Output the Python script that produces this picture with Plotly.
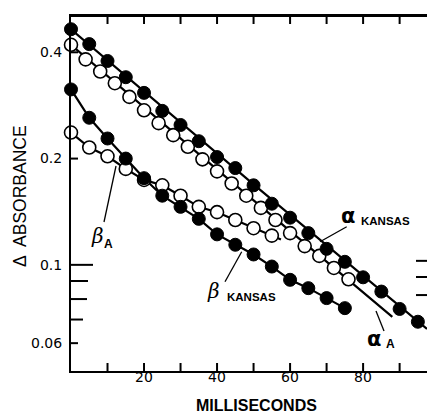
import math
import plotly.graph_objects as go

# ---- data ----
ak_x = [0, 5, 10, 15, 20, 25, 30, 35, 40, 45, 50, 55, 60, 65, 70, 75, 80, 85, 90, 95]
ak_y = [0.465, 0.422, 0.378, 0.340, 0.307, 0.273, 0.249, 0.224, 0.202, 0.188,
        0.168, 0.149, 0.136, 0.123, 0.111, 0.102, 0.0922, 0.084, 0.075, 0.069]

aa_x = [0, 4, 8, 12, 16, 20, 24, 28, 32, 36, 40, 44, 48, 52, 56, 60, 64, 68, 72, 76]
aa_y = [0.42, 0.382, 0.353, 0.327, 0.299, 0.274, 0.252, 0.233, 0.216, 0.199,
        0.184, 0.170, 0.157, 0.145, 0.134, 0.123, 0.113, 0.106, 0.098, 0.091]

ba_x = [0, 5, 10, 15, 20, 25, 30, 35, 40, 45, 50, 55]
ba_y = [0.237, 0.215, 0.203, 0.187, 0.174, 0.168, 0.157, 0.146, 0.141, 0.134, 0.127, 0.121]

bk_x = [0, 5, 10, 15, 20, 25, 30, 35, 40, 45, 50, 55, 60, 65, 70, 75]
bk_y = [0.314, 0.261, 0.228, 0.200, 0.176, 0.157, 0.146, 0.135, 0.122, 0.114,
        0.107, 0.0989, 0.0907, 0.0859, 0.0805, 0.0754]

# fitted lines
ak_fit_x = [0, 50, 97.5]
ak_fit_y = [0.465, 0.169, 0.0658]
aa_fit_x = [0, 40, 88]
aa_fit_y = [0.42, 0.186, 0.0712]
ba_fit_x = ba_x + [57.5]
ba_fit_y = ba_y + [0.118]
bk_fit_x = bk_x
bk_fit_y = bk_y

y_tickvals = [0.06, 0.1, 0.2, 0.4]
y_ticktext = ["0.06", "0.1", "0.2", "0.4"]
y_minor = [0.07, 0.08, 0.09]
y_minor_len = [12, 16, 17]
x_tickvals = [10, 20, 30, 40, 50, 60, 70, 80, 90]
x_ticktext = ["", "20", "", "40", "", "60", "", "80", ""]
right_ticks = [0.1, 0.09, 0.08]

# ---- layout geometry ----
W, H = 427, 416
L, R, T, B = 71, 0, 16, 45
PW, PH = W - L - R, H - T - B
X_RANGE = [0, 97.5]
Y_RANGE = [-1.3007, -0.2951]
PPX = PW / (X_RANGE[1] - X_RANGE[0])        # pixels per ms
PPD = PH / (Y_RANGE[1] - Y_RANGE[0])        # pixels per decade


def px(x, y):
    return (x - L) / PW, (H - B - y) / PH


fig = go.Figure()

for fx, fy in [(ak_fit_x, ak_fit_y), (aa_fit_x, aa_fit_y), (ba_fit_x, ba_fit_y), (bk_fit_x, bk_fit_y)]:
    fig.add_trace(go.Scatter(x=fx, y=fy, mode="lines",
                             line=dict(color="black", width=2.2), hoverinfo="skip"))

open_m = dict(symbol="circle", size=13, color="white", line=dict(color="black", width=1.6))
fill_m = dict(symbol="circle", size=13, color="black", line=dict(color="black", width=1))

fig.add_trace(go.Scatter(x=ba_x, y=ba_y, mode="markers", marker=open_m, cliponaxis=False))
fig.add_trace(go.Scatter(x=bk_x, y=bk_y, mode="markers", marker=fill_m, cliponaxis=False))
fig.add_trace(go.Scatter(x=aa_x, y=aa_y, mode="markers", marker=open_m, cliponaxis=False))
fig.add_trace(go.Scatter(x=ak_x, y=ak_y, mode="markers", marker=fill_m, cliponaxis=False))

# ---- frame: top line and all ticks, drawn as one line trace derived from ranges/tickvals ----
y_top = 10 ** Y_RANGE[1]
y_bot = 10 ** Y_RANGE[0]
fx, fy = [], []


def seg(x0, y0, x1, y1):
    fx.extend([x0, x1, None])
    fy.extend([y0, y1, None])


seg(X_RANGE[0], y_top, X_RANGE[1], y_top)
for v in x_tickvals:
    seg(v, y_top, v, 10 ** (Y_RANGE[1] - 8 / PPD))
    seg(v, y_bot, v, 10 ** (Y_RANGE[0] + 8 / PPD))
for v in y_tickvals:
    ln = 22 if v == 0.1 else 7
    seg(X_RANGE[0] - 4 / PPX, v, X_RANGE[0] + ln / PPX, v)
for v, ln in zip(y_minor, y_minor_len):
    seg(X_RANGE[0], v, X_RANGE[0] + ln / PPX, v)
for v in right_ticks:
    vv = 10 ** (math.log10(v) + 4 / PPD)
    seg(X_RANGE[1] - 11 / PPX, vv, X_RANGE[1], vv)
fig.add_trace(go.Scatter(x=fx, y=fy, mode="lines", line=dict(color="black", width=2),
                         cliponaxis=False, hoverinfo="skip", connectgaps=False))

tickfont = dict(family="DejaVu Sans", size=14, color="black")

fig.update_layout(
    xaxis=dict(range=X_RANGE, showline=True, linecolor="black", linewidth=2, mirror=True,
               ticks="", tickvals=x_tickvals, showticklabels=False,
               showgrid=False, zeroline=False),
    yaxis=dict(type="log", range=Y_RANGE, showline=True, linecolor="black",
               linewidth=2, ticks="", tickvals=y_tickvals, ticktext=y_ticktext,
               tickfont=tickfont, ticklabelstandoff=4,
               showgrid=False, zeroline=False),
)

shapes = []
# leader lines
for (x0, y0, x1, y1) in [(346.7, 226.7, 320, 241.7), (376, 311, 384, 331),
                         (116, 166, 104, 222), (241.7, 251.7, 225, 281.7)]:
    a0, b0 = px(x0, y0)
    a1, b1 = px(x1, y1)
    shapes.append(dict(type="line", xref="paper", yref="paper", x0=a0, y0=b0, x1=a1, y1=b1,
                       line=dict(color="black", width=1.3)))

annotations = []

# x tick labels
for v, t in zip(x_tickvals, x_ticktext):
    if t:
        annotations.append(dict(text=t, x=(v - X_RANGE[0]) / (X_RANGE[1] - X_RANGE[0]),
                                xref="paper", y=0, yref="paper", yshift=-6,
                                showarrow=False, xanchor="center", yanchor="middle",
                                font=tickfont))


def text(s, x, y, size, family="Liberation Sans", bold=False, style="normal", angle=0):
    a, b = px(x, y)
    annotations.append(dict(text=("<b>%s</b>" % s) if bold else s, x=a, y=b,
                            xref="paper", yref="paper", showarrow=False,
                            xanchor="center", yanchor="middle", textangle=angle,
                            font=dict(family=family, size=size, color="black", style=style)))


text("α", 348, 216, 21, family="DejaVu Sans", bold=True)
text("KANSAS", 385, 221, 11.5, bold=True)
text("α", 374, 339, 21, family="DejaVu Sans", bold=True)
text("A", 390, 344, 12, bold=True)
text("β", 97, 236, 20, family="DejaVu Serif", style="italic")
text("A", 108, 244, 12, bold=True)
text("β", 213, 291, 20, family="DejaVu Serif", style="italic")
text("KANSAS", 251, 297, 11.5, bold=True)
text("MILLISECONDS", 256.5, 405, 16, bold=True)
text("Δ\u2009 ABSORBANCE", 20, 196, 17.5, angle=-90)

fig.update_layout(width=W, height=H, margin=dict(l=L, r=R, t=T, b=B),
                  paper_bgcolor="white", plot_bgcolor="white", showlegend=False,
                  shapes=shapes, annotations=annotations)

fig.write_html("out.html")
